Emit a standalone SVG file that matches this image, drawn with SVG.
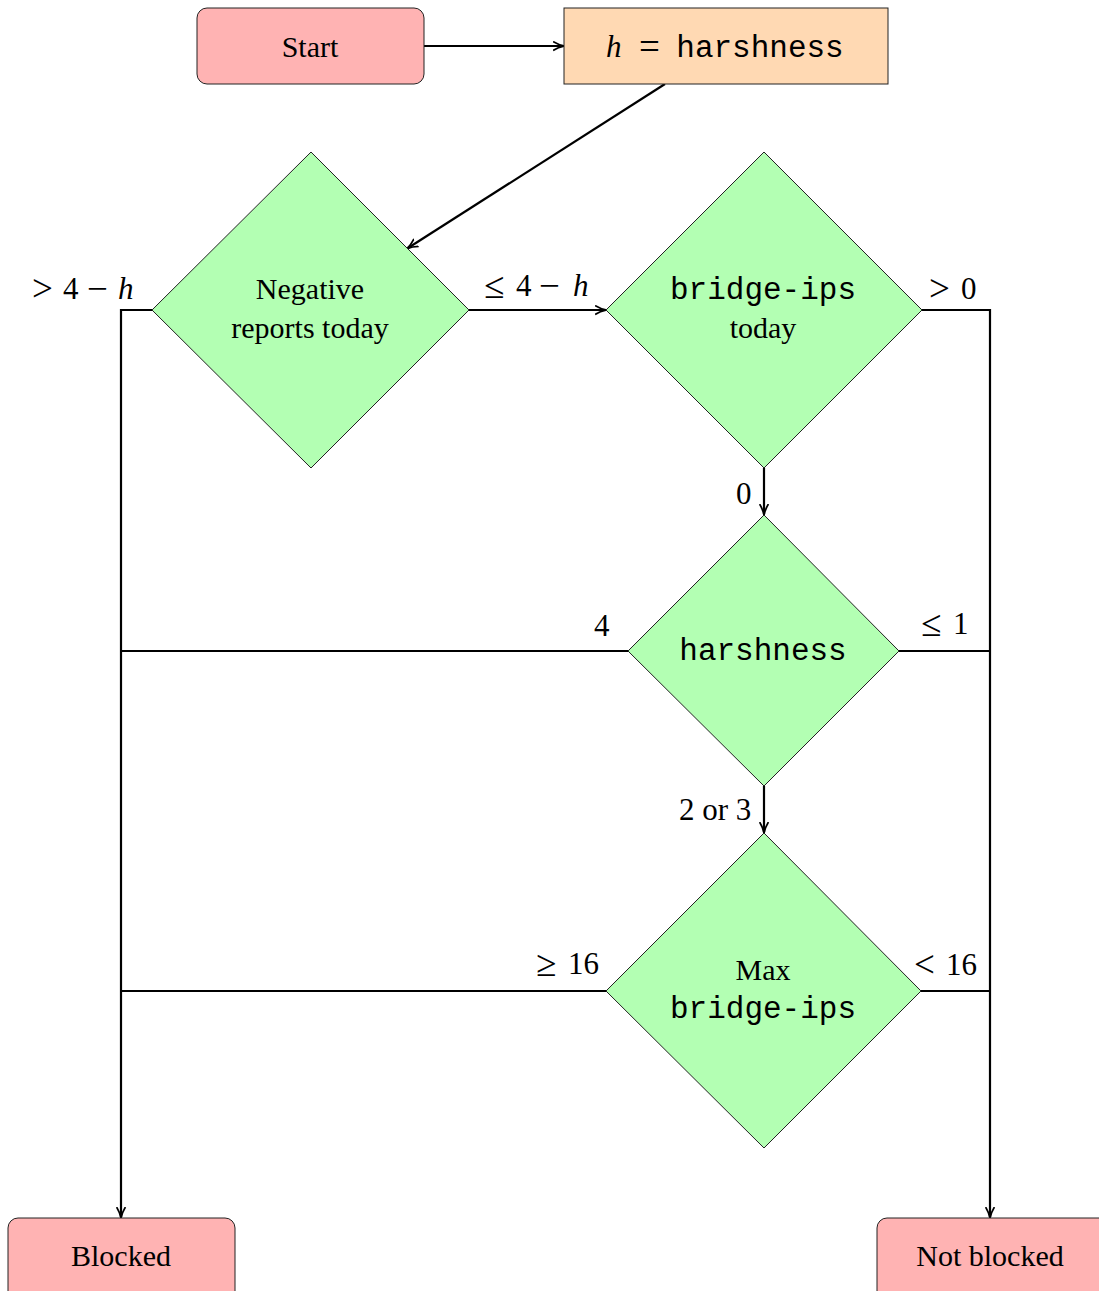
<svg xmlns="http://www.w3.org/2000/svg" width="1099" height="1291" viewBox="0 0 1099 1291">
<style>
.t{font-family:"Liberation Serif","Times New Roman",serif;font-size:30px;fill:#000;text-anchor:middle}
.m{font-family:"Liberation Mono","Courier New",monospace;font-size:31px;fill:#000;text-anchor:middle}
.l{font-family:"Liberation Serif","Times New Roman",serif;font-size:31px;fill:#000}
.i{font-style:italic}
.s{font-size:37px}
.term{fill:#ffb3b3;stroke:#222;stroke-width:1}
.proc{fill:#ffd9b3;stroke:#222;stroke-width:1}
.dec{fill:#b3ffb3;stroke:#222;stroke-width:1}
.c{fill:none;stroke:#000;stroke-width:2.2}
</style>
<defs>
<marker id="a" viewBox="0 0 10 10" refX="9" refY="5" markerWidth="11" markerHeight="11" markerUnits="userSpaceOnUse" orient="auto">
<path d="M0,1 Q5,4 10,5 Q5,6 0,9" fill="none" stroke="#000" stroke-width="1.6"/>
</marker>
</defs>
<g id="connectors">
<line class="c" x1="424" y1="46" x2="563" y2="46" marker-end="url(#a)"/>
<line class="c" x1="665" y1="84" x2="408" y2="248" marker-end="url(#a)"/>
<line class="c" x1="469" y1="310" x2="605" y2="310" marker-end="url(#a)"/>
<line class="c" x1="764" y1="468" x2="764" y2="514" marker-end="url(#a)"/>
<line class="c" x1="764" y1="786" x2="764" y2="832" marker-end="url(#a)"/>
<polyline class="c" points="152,310 121,310 121,1217" marker-end="url(#a)"/>
<polyline class="c" points="628,651 121,651"/>
<polyline class="c" points="606,991 121,991"/>
<polyline class="c" points="922,310 990,310 990,1217" marker-end="url(#a)"/>
<polyline class="c" points="899,651 990,651"/>
<polyline class="c" points="921,991 990,991"/>
<text class="l"><tspan x="32" y="301" class="s">&gt;</tspan><tspan x="63" y="299">4</tspan><tspan x="87" y="301" class="s">−</tspan><tspan x="118" y="299" class="i">h</tspan></text>
<text class="l"><tspan x="484" y="298" class="s">≤</tspan><tspan x="516" y="296">4</tspan><tspan x="539" y="298" class="s">−</tspan><tspan x="573" y="296" class="i">h</tspan></text>
<text class="l"><tspan x="929" y="301" class="s">&gt;</tspan><tspan x="961" y="299">0</tspan></text>
<text class="l" x="736" y="504">0</text>
<text class="l" x="594" y="636">4</text>
<text class="l"><tspan x="921" y="636" class="s">≤</tspan><tspan x="953" y="634">1</tspan></text>
<text class="l" x="679" y="820">2 or 3</text>
<text class="l"><tspan x="536" y="976" class="s">≥</tspan><tspan x="568" y="974">16</tspan></text>
<text class="l"><tspan x="914" y="977" class="s">&lt;</tspan><tspan x="946" y="975">16</tspan></text>
</g>
<g id="start">
<rect class="term" x="197" y="8" width="227" height="76" rx="10"/>
<text class="t" x="310" y="57">Start</text>
</g>
<g id="h">
<rect class="proc" x="564" y="8" width="324" height="76"/>
<text class="l"><tspan x="606" y="57" class="i">h</tspan><tspan x="639" y="59" class="s">=</tspan></text>
<text class="m" x="760" y="57">harshness</text>
</g>
<g id="negative">
<polygon class="dec" points="311,152 469,310 311,468 152,310"/>
<text class="t" x="310" y="299">Negative</text>
<text class="t" x="310" y="338">reports today</text>
</g>
<g id="bridgeips">
<polygon class="dec" points="764,152 922,310 764,468 606,310"/>
<text class="m" x="763" y="299">bridge-ips</text>
<text class="t" x="763" y="338">today</text>
</g>
<g id="harshness">
<polygon class="dec" points="764,515 899,651 764,786 628,651"/>
<text class="m" x="763" y="660">harshness</text>
</g>
<g id="maxbridge">
<polygon class="dec" points="764,833 921,991 764,1148 606,991"/>
<text class="t" x="763" y="980">Max</text>
<text class="m" x="763" y="1018">bridge-ips</text>
</g>
<g id="blocked">
<rect class="term" x="8" y="1218" width="227" height="90" rx="10"/>
<text class="t" x="121" y="1266">Blocked</text>
</g>
<g id="notblocked">
<rect class="term" x="877" y="1218" width="240" height="90" rx="10"/>
<text class="t" x="990" y="1266">Not blocked</text>
</g>
</svg>
